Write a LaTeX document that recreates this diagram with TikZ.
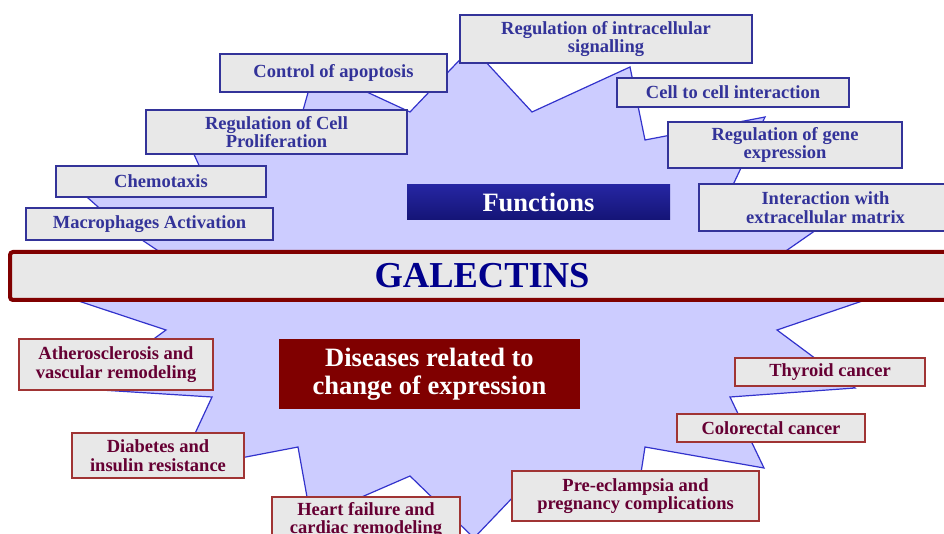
\documentclass[tikz,border=0pt]{standalone}
\usepackage{fontspec}
\setmainfont{Liberation Serif}

\definecolor{starfill}{RGB}{204,204,255}
\definecolor{starline}{RGB}{51,51,204}
\definecolor{boxgray}{RGB}{232,232,232}
\definecolor{fnblue}{RGB}{51,51,153}
\definecolor{fntop}{RGB}{38,38,162}
\definecolor{fnbottom}{RGB}{20,20,118}
\definecolor{titleblue}{RGB}{0,0,140}
\definecolor{dsred}{RGB}{128,0,0}
\definecolor{dsline}{RGB}{160,52,52}
\definecolor{dstext}{RGB}{102,0,51}

\tikzset{
	starshape/.style={ draw=starline, line width=1.2pt, fill=starfill, line join=miter },
	funcbox/.style={ draw=fnblue, line width=2pt, fill=boxgray, text=fnblue, align=center, inner sep=0pt,
		font=\bfseries\fontsize{18.5}{18.5}\selectfont },
	disbox/.style={ draw=dsline, line width=1.5pt, fill=boxgray, text=dstext, align=center, inner sep=0pt,
		font=\bfseries\fontsize{18.5}{18.5}\selectfont },
	headbox/.style={ text=white, align=center, inner sep=0pt, font=\bfseries\fontsize{26.5}{27.5}\selectfont },
	titlebox/.style={ draw=dsred, line width=4pt, rounded corners=3pt, fill=boxgray, text=titleblue,
		inner sep=0pt, font=\bfseries\fontsize{36.5}{36.5}\selectfont }
}

\begin{document}
\begin{tikzpicture}[ x=1pt, y=-1pt ]

	\useasboundingbox (0, 0) rectangle (944, 534);

	% burst behind the boxes
	\draw[ starshape ] (315,68) -- (410,112) -- (472,47) -- (532,112) -- (630,67) -- (645,140)
		-- (765,117) -- (724,204) -- (875,189) -- (770,262) -- (930,278) -- (777,330)
		-- (855,388) -- (730,397) -- (764,468) -- (645,447) -- (636,505) -- (537,472)
		-- (474,538) -- (410,476) -- (311,519) -- (298,447) -- (178,470) -- (212,397)
		-- (85,389) -- (166,330) -- (15,280) -- (178,264) -- (115,222) -- (70,182)
		-- (202,172) -- (183,130) -- (298,128) -- cycle;

	\node[ funcbox, minimum width=227pt, minimum height=38pt ] (apoptosis) at (333.5, 73) {Control of apoptosis};
	\node[ funcbox, minimum width=261pt, minimum height=44pt ] (proliferation) at (276.5, 132) {Regulation of Cell\\Proliferation};
	\node[ funcbox, minimum width=210pt, minimum height=31pt ] (chemotaxis) at (161, 181.5) {Chemotaxis};
	\node[ funcbox, minimum width=247pt, minimum height=32pt ] (macrophages) at (149.5, 224) {Macrophages Activation};
	\node[ funcbox, minimum width=292pt, minimum height=48pt ] (signalling) at (606, 39) {Regulation of intracellular\\signalling};
	\node[ funcbox, minimum width=232pt, minimum height=29pt ] (cellcell) at (733, 92.5) {Cell to cell interaction};
	\node[ funcbox, minimum width=234pt, minimum height=46pt ] (geneexpr) at (785, 145) {Regulation of gene\\expression};
	\node[ funcbox, minimum width=253pt, minimum height=47pt ] (matrix) at (825.5, 207.5) {Interaction with\\extracellular matrix};

	\node[ headbox, top color=fntop, bottom color=fnbottom, minimum width=263pt, minimum height=35pt ] (functions) at (538.5, 202.5) {Functions};

	\node[ titlebox, minimum width=944pt, minimum height=48pt ] (galectins) at (482, 276) {GALECTINS};

	\node[ headbox, fill=dsred, minimum width=301pt, minimum height=70pt ] (diseases) at (429.5, 374) {Diseases related to\\change of expression};

	\node[ disbox, minimum width=194pt, minimum height=51pt ] (athero) at (116, 364.5) {Atherosclerosis and\\vascular remodeling};
	\node[ disbox, minimum width=172pt, minimum height=45pt ] (diabetes) at (158, 455.5) {Diabetes and\\insulin resistance};
	\node[ disbox, minimum width=188pt, minimum height=46pt ] (heart) at (366, 520) {Heart failure and\\cardiac remodeling};
	\node[ disbox, minimum width=190pt, minimum height=28pt ] (thyroid) at (830, 372) {Thyroid cancer};
	\node[ disbox, minimum width=188pt, minimum height=28pt ] (colorectal) at (771, 428) {Colorectal cancer};
	\node[ disbox, minimum width=247pt, minimum height=50pt ] (preeclampsia) at (635.5, 496) {Pre-eclampsia and\\pregnancy complications};

\end{tikzpicture}
\end{document}
